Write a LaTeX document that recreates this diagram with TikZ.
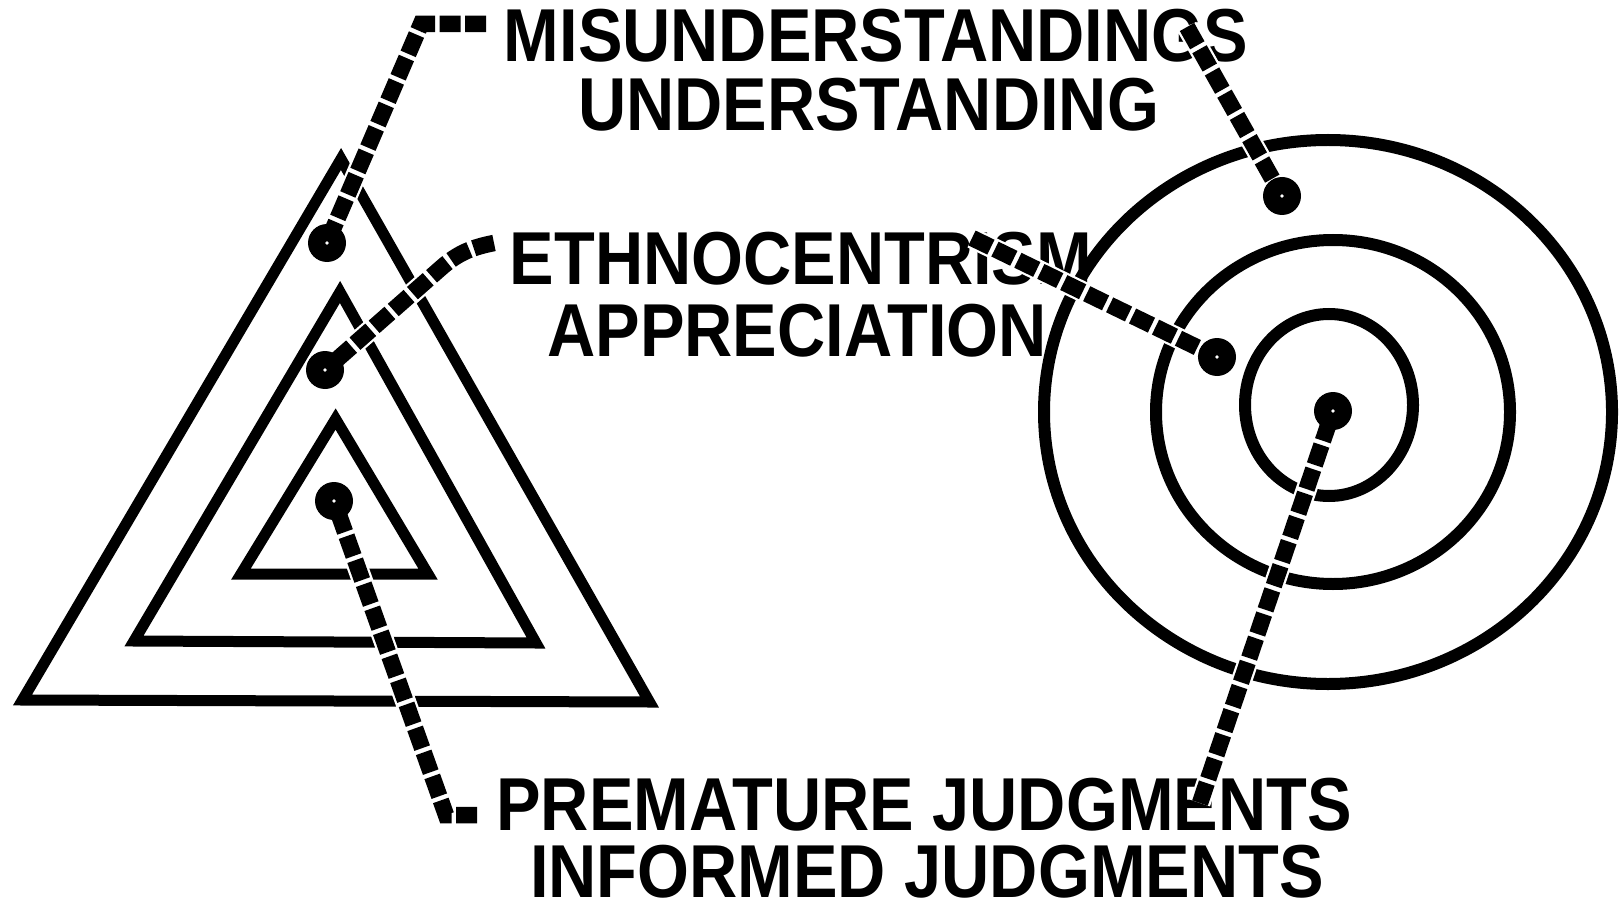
\documentclass[tikz,border=0pt]{standalone}
\usepackage{fontspec}
\newfontfamily\labfont{Liberation Sans}[FakeStretch=0.89]
\begin{document}
\begin{tikzpicture}[x=1pt,y=-1pt,
  trishape/.style={draw=black, line width=11pt, line join=miter},
  ringline/.style={draw=black, line width=12pt},
  lab/.style={font=\labfont\bfseries\fontsize{75}{82}\selectfont, inner sep=0pt, anchor=base},
  dotnode/.style={circle, fill=black, minimum size=38pt, inner sep=0pt},
  conn/.style={preaction={draw=white, line width=21pt, solid, line join=miter},
               draw=black, line width=16.5pt, dash pattern=on 21pt off 4.5pt, line join=miter},
  hole/.style={fill=white}
]
\fill[white] (0,0) rectangle (1621,909);
\useasboundingbox (0,0) rectangle (1621,909);

% triangles
\draw[trishape] (341,159) -- (22.5,700) -- (649.5,702) -- cycle;
\draw[trishape] (340,292) -- (134,641) -- (536,643) -- cycle;
\draw[trishape] (335.6,419) -- (241,574) -- (428,574) -- cycle;

% circles
\draw[ringline] (1328,412) ellipse [x radius=284, y radius=272];
\draw[ringline] (1333,412) ellipse [x radius=177, y radius=172];
\draw[ringline] (1329,405) ellipse [x radius=84, y radius=91];

% labels
\node[lab] (t1) at (876,62) {MISUNDERSTANDINGS};
\node[lab] (t2) at (868.5,131) {UNDERSTANDING};
\node[lab] (t3) at (801,284) {ETHNOCENTRISM};
\node[lab] (t4) at (797,356) {APPRECIATION};
\node[lab] (t5) at (924,830) {PREMATURE JUDGMENTS};
\node[lab] (t6) at (927,897) {INFORMED JUDGMENTS};

% dot positions
\coordinate (d1) at (327,243);
\coordinate (d2) at (325,370);
\coordinate (d3) at (334,501);
\coordinate (c1) at (1282,196);
\coordinate (c2) at (1217,357);
\coordinate (c3) at (1333,411);

% free ends of connectors
\coordinate (a1) at (421,24);
\coordinate (a2) at (486,24);
\coordinate (b1) at (441,268);
\coordinate (b2) at (494,243);
\coordinate (f1) at (446,815);
\coordinate (f2) at (477,815);
\coordinate (g1) at (1187,27);
\coordinate (h1) at (972,238);
\coordinate (k1) at (1200,803);

% connectors
\draw[conn] (a2) -- (a1) -- (d1);
\draw[conn] (b2) .. controls (474,247) and (459,252) .. (b1) -- (d2);
\draw[conn] (f2) -- (f1) -- (d3);
\draw[conn] (g1) -- (c1);
\draw[conn] (h1) -- (c2);
\draw[conn] (k1) -- (c3);

% dots
\foreach \p in {d1,d2,d3,c1,c2,c3}{
  \node[dotnode] (n\p) at (\p) {};
  \fill[hole] (\p) circle (1.8);
}
\end{tikzpicture}
\end{document}
